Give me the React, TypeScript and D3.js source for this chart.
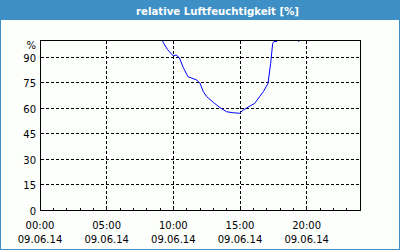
import React from "react";
import * as d3 from "d3";

const title = "relative Luftfeuchtigkeit [%]";
const dateLabel = "09.06.14";
const xTickHours = [0, 5, 10, 15, 20];
const xTickLabels = ["00:00", "05:00", "10:00", "15:00", "20:00"];
const minorHours = d3.range(0, 25, 1);
const yTicks = [0, 15, 30, 45, 60, 75, 90];
const yGrid = [15, 30, 45, 60, 75, 90];

const hours = [0, 9.15, 9.25, 9.55, 10.0, 10.2, 10.45, 10.75, 11.1, 11.75, 12.0, 12.25, 12.5, 13.0, 13.5, 14.0, 14.5, 14.95, 15.25, 15.75, 16.1, 16.5, 16.75, 17.1, 17.3, 17.45, 17.55, 17.75, 17.8, 19.33, 19.4, 19.47, 20.5];
const humidity = [100, 100, 98.5, 94.5, 90.6, 91.2, 89.6, 83.7, 78.4, 76.5, 74.5, 69.6, 66.7, 63.3, 60.2, 57.8, 57.2, 56.9, 58.8, 61.2, 62.7, 67, 69.6, 74.5, 86.3, 98, 99.1, 99.1, 100, 100, 99.1, 100, 100];

const W = 400, H = 250;
const L = 40, R = 360, T = 40, B = 210;

export default function App() {
  const x = d3.scaleLinear().domain([0, 24]).range([L, R]);
  const y = d3.scaleLinear().domain([0, 100]).range([B, T]);
  const pts = hours.map((h, i) => [h, humidity[i]] as [number, number]);
  const line = d3.line<[number, number]>().x(d => x(d[0])).y(d => y(d[1]));
  const px = (v: number) => Math.floor(v) + 0.5;
  const font = "'DejaVu Sans', Verdana, sans-serif";
  return (
    <svg width={W} height={H} style={{ position: "fixed", left: 0, top: 0 }} fontFamily={font}>
      <rect x={0} y={0} width={W} height={H} fill="#3d8fc5" />
      <rect x={1} y={20} width={W - 2} height={H - 21} fill="#fdfffd" />
      <text x={217.5} y={14.5} fill="#ffffff" fontWeight="bold" fontSize={11} textAnchor="middle" textLength={163} lengthAdjust="spacingAndGlyphs">{title}</text>
      <defs>
        <clipPath id="plot">
          <rect x={L + 1} y={T + 1} width={R - L - 1} height={B - T - 1} />
        </clipPath>
      </defs>
      <g stroke="#000" strokeWidth={1} strokeDasharray="3,2" shapeRendering="crispEdges">
        {yGrid.map(v => (
          <line key={"h" + v} x1={L + 1} x2={R} y1={px(y(v))} y2={px(y(v))} />
        ))}
        {xTickHours.slice(1).map(h => (
          <line key={"v" + h} x1={px(x(h))} x2={px(x(h))} y1={T + 1} y2={B} />
        ))}
      </g>
      <g stroke="#000" strokeWidth={1} shapeRendering="crispEdges">
        {minorHours.map(h => (
          <line key={"m" + h} x1={px(x(h))} x2={px(x(h))} y1={B - 2} y2={B} />
        ))}
      </g>
      <path d={line(pts) || ""} fill="none" stroke="#0000ff" strokeWidth={1} clipPath="url(#plot)" />
      <rect x={L + 0.5} y={T + 0.5} width={R - L} height={B - T} fill="none" stroke="#000" strokeWidth={1} shapeRendering="crispEdges" />
      <g fontSize={10} fill="#000">
        <text x={36} y={49} textAnchor="end">%</text>
        {yTicks.map(v => (
          <text key={"yl" + v} x={36} y={y(v) + 4.5} textAnchor="end">{v}</text>
        ))}
        {xTickHours.map((h, i) => (
          <g key={"xl" + h}>
            <text x={x(h)} y={228.5} textAnchor="middle">{xTickLabels[i]}</text>
            <text x={x(h)} y={243} textAnchor="middle">{dateLabel}</text>
          </g>
        ))}
      </g>
    </svg>
  );
}
